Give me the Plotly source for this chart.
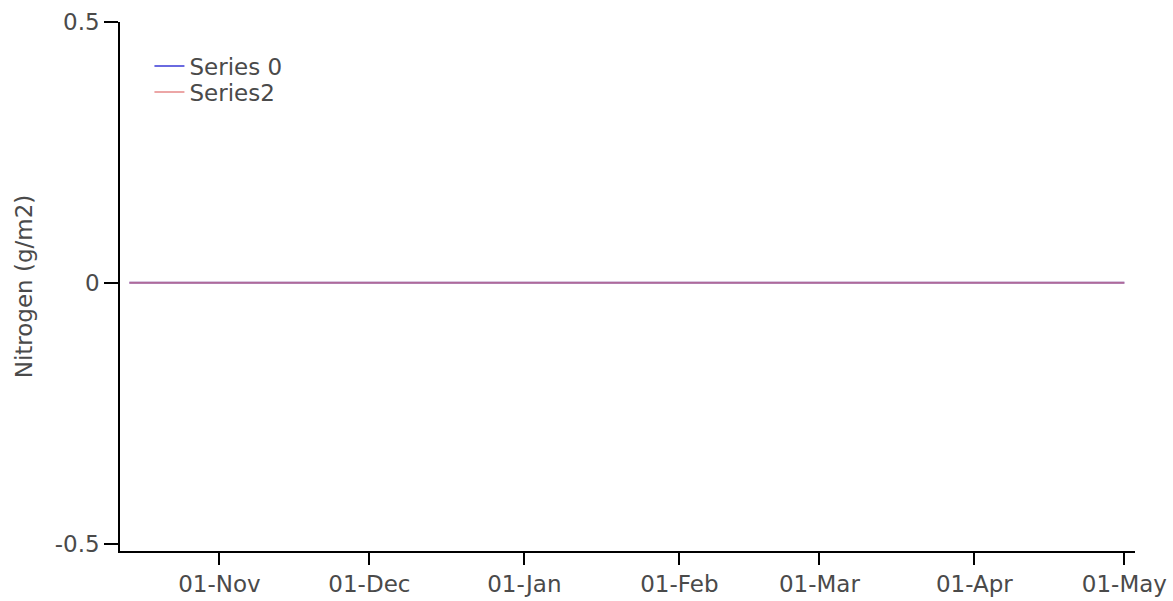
import pandas as pd
import plotly.graph_objects as go

# Daily simulation output (g/m2)
start_date = "2018-10-14"
end_date = "2019-05-01"
dates = pd.date_range(start_date, end_date, freq="D")
series0_values = [0.0] * len(dates)
series2_values = [0.0] * len(dates)

y_ticks = [-0.5, 0, 0.5]
y_tick_labels = ["-0.5", "0", "0.5"]

FONT = "DejaVu Sans"
TEXT = "#4a4a4a"
SIZE = 23

fig = go.Figure()
fig.add_trace(go.Scatter(
    x=dates, y=series0_values, mode="lines", name="Series 0",
    line=dict(color="#6a6ae0", width=2), legend="legend",
))
fig.add_trace(go.Scatter(
    x=dates, y=series2_values, mode="lines", name="Series2",
    line=dict(color="#e06a6a", width=2), opacity=0.6, legend="legend2",
))

legend_style = dict(
    xanchor="left", yanchor="top",
    bgcolor="rgba(0,0,0,0)", font=dict(size=SIZE, color=TEXT),
    itemwidth=30,
)

fig.update_layout(
    width=1173, height=601,
    margin=dict(l=120, r=38, t=22, b=50),
    paper_bgcolor="white", plot_bgcolor="white",
    font=dict(family=FONT, size=SIZE, color=TEXT),
    showlegend=True,
    legend=dict(x=0.029, y=0.9575, **legend_style),
    legend2=dict(x=0.029, y=0.9083, **legend_style),
)
fig.update_xaxes(
    type="date", automargin=False,
    range=["2018-10-12 03:00", "2019-05-03 03:00"],
    tick0="2018-11-01", dtick="M1", tickformat="%d-%b",
    showline=True, linecolor="black", linewidth=1.5,
    ticks="outside", ticklen=12, tickcolor="black", tickwidth=1.5,
    showgrid=False, zeroline=False,
    tickfont=dict(size=SIZE, color=TEXT),
)
fig.update_yaxes(
    automargin=False,
    range=[-0.514, 0.5],
    tickvals=y_ticks, ticktext=y_tick_labels,
    showline=True, linecolor="black", linewidth=1.5,
    ticks="outside", ticklen=14, tickcolor="black", tickwidth=1.5,
    showgrid=False, zeroline=False,
    title=dict(text="Nitrogen (g/m2)", font=dict(size=SIZE, color=TEXT), standoff=16),
    tickfont=dict(size=SIZE, color=TEXT),
)

fig.write_html("out.html")
